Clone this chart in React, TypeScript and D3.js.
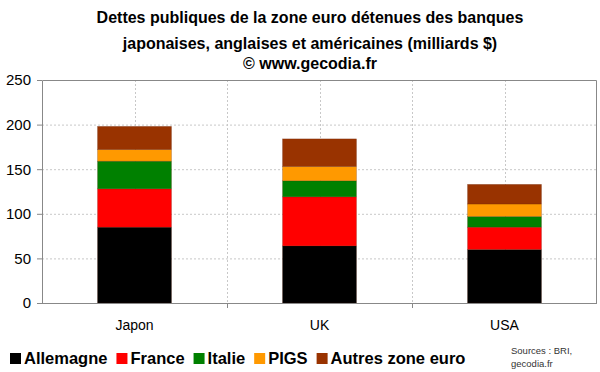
import React, { useRef, useEffect } from "react";
import * as d3 from "d3";

// banks' country
const COUNTRIES = ["Japon", "UK", "USA"];
// holdings by debtor (milliards $), bottom to top
const SERIES = ["Allemagne", "France", "Italie", "PIGS", "Autres zone euro"];
const ALLEMAGNE = [85, 64, 60];
const FRANCE = [43, 55, 25];
const ITALIE = [31, 18, 12];
const PIGS = [13, 16, 14];
const AUTRES = [26, 31, 22];
const Y_TICKS = [0, 50, 100, 150, 200, 250];
const COLORS = ["#000000", "#ff0000", "#008000", "#ff9900", "#993300"];

const W = 600;
const H = 372;

export default function App() {
  const svgRef = useRef<SVGSVGElement>(null);

  useEffect(() => {
    const M = { top: 80, right: 3, bottom: 69, left: 42 };
    const iw = W - M.left - M.right;
    const ih = H - M.top - M.bottom;

    const values = [ALLEMAGNE, FRANCE, ITALIE, PIGS, AUTRES];
    const table = COUNTRIES.map((c, i) => {
      const row: any = { country: c };
      SERIES.forEach((s, k) => (row[s] = values[k][i]));
      return row;
    });
    const stacked = d3.stack().keys(SERIES)(table);

    const x = d3.scaleBand().domain(COUNTRIES).range([0, iw]).paddingInner(0).paddingOuter(0);
    const y = d3.scaleLinear().domain([0, 250]).range([ih, 0]);
    const bw = x.bandwidth() * 0.4;

    const svg = d3.select(svgRef.current);
    svg.selectAll("*").remove();
    const font = "'Liberation Sans', Arial, sans-serif";
    svg.style("font-family", font);

    svg.append("rect").attr("width", W).attr("height", H).attr("fill", "#fff");

    /* ---- title ---- */
    const titles = [
      "Dettes publiques de la zone euro détenues des banques",
      "japonaises, anglaises et américaines (milliards $)",
      "© www.gecodia.fr",
    ];
    titles.forEach((t, i) => {
      svg
        .append("text")
        .attr("x", 310)
        .attr("y", [23, 49, 69][i])
        .attr("text-anchor", "middle")
        .attr("font-weight", "bold")
        .style("font-size", "16px")
        .attr("fill", "#000")
        .text(t);
    });

    const g = svg.append("g").attr("transform", `translate(${M.left},${M.top})`);

    /* ---- grid ---- */
    g.append("g")
      .selectAll("line")
      .data(Y_TICKS.slice(1, -1))
      .join("line")
      .attr("x1", 0)
      .attr("x2", iw)
      .attr("y1", (d) => y(d) + 0.5)
      .attr("y2", (d) => y(d) + 0.5)
      .attr("stroke", "#c8c8c8")
      .attr("stroke-dasharray", "2,2");

    const vlines = COUNTRIES.map((c) => x(c)! + x.bandwidth() / 2).concat(
      COUNTRIES.slice(1).map((c) => x(c)!)
    );
    g.append("g")
      .selectAll("line")
      .data(vlines)
      .join("line")
      .attr("x1", (d) => Math.round(d) + 0.5)
      .attr("x2", (d) => Math.round(d) + 0.5)
      .attr("y1", 0)
      .attr("y2", ih)
      .attr("stroke", "#c8c8c8")
      .attr("stroke-dasharray", "2,2");

    /* ---- bars ---- */
    g.append("g")
      .selectAll("g")
      .data(stacked)
      .join("g")
      .attr("fill", (_, i) => COLORS[i])
      .selectAll("rect")
      .data((d) => d)
      .join("rect")
      .attr("x", (d: any) => x(d.data.country)! + (x.bandwidth() - bw) / 2)
      .attr("width", bw)
      .attr("y", (d) => y(d[1]))
      .attr("height", (d) => y(d[0]) - y(d[1]))
      .attr("stroke", "#5a1a00")
      .attr("stroke-opacity", 0.35)
      .attr("stroke-width", 0.6);

    /* ---- frame & axes ---- */
    g.append("path")
      .attr("d", `M0.5,${ih}V0.5H${iw - 0.5}V${ih}`)
      .attr("fill", "none")
      .attr("stroke", "#888");
    g.append("line")
      .attr("x1", 0)
      .attr("x2", iw)
      .attr("y1", ih + 0.5)
      .attr("y2", ih + 0.5)
      .attr("stroke", "#888");

    const yAxis = g.append("g").call(d3.axisLeft(y).tickValues(Y_TICKS).tickSize(5).tickPadding(6));
    yAxis.select(".domain").remove();
    yAxis.selectAll("line").attr("stroke", "#888");
    yAxis
      .selectAll("text")
      .attr("fill", "#000")
      .style("font-size", "15px")
      .style("font-family", font);

    g.append("g")
      .selectAll("line")
      .data(COUNTRIES.slice(1).map((c) => x(c)!))
      .join("line")
      .attr("x1", (d) => Math.round(d) + 0.5)
      .attr("x2", (d) => Math.round(d) + 0.5)
      .attr("y1", ih)
      .attr("y2", ih + 5)
      .attr("stroke", "#888");

    g.append("g")
      .selectAll("text")
      .data(COUNTRIES)
      .join("text")
      .attr("x", (d) => x(d)! + x.bandwidth() / 2)
      .attr("y", ih + 27)
      .attr("text-anchor", "middle")
      .attr("fill", "#000")
      .style("font-size", "14px")
      .text((d) => d);

    /* ---- legend ---- */
    const leg = svg.append("g");
    let lx = 10;
    SERIES.forEach((s, i) => {
      leg
        .append("rect")
        .attr("x", lx)
        .attr("y", 353)
        .attr("width", 11)
        .attr("height", 11)
        .attr("fill", COLORS[i]);
      const t = leg
        .append("text")
        .attr("x", lx + 14)
        .attr("y", 364)
        .attr("font-weight", "bold")
        .style("font-size", "16.5px")
        .attr("fill", "#000")
        .text(s);
      lx += 14 + (t.node() as SVGTextElement).getComputedTextLength() + 9;
    });

    /* ---- source ---- */
    ["Sources : BRI,", "gecodia.fr"].forEach((t, i) => {
      svg
        .append("text")
        .attr("x", 511)
        .attr("y", 354 + i * 13)
        .style("font-size", "9.5px")
        .attr("fill", "#333")
        .text(t);
    });
  }, []);

  return (
    <svg
      ref={svgRef}
      width={W}
      height={H}
      style={{ position: "absolute", left: 0, top: 0, display: "block" }}
    />
  );
}
